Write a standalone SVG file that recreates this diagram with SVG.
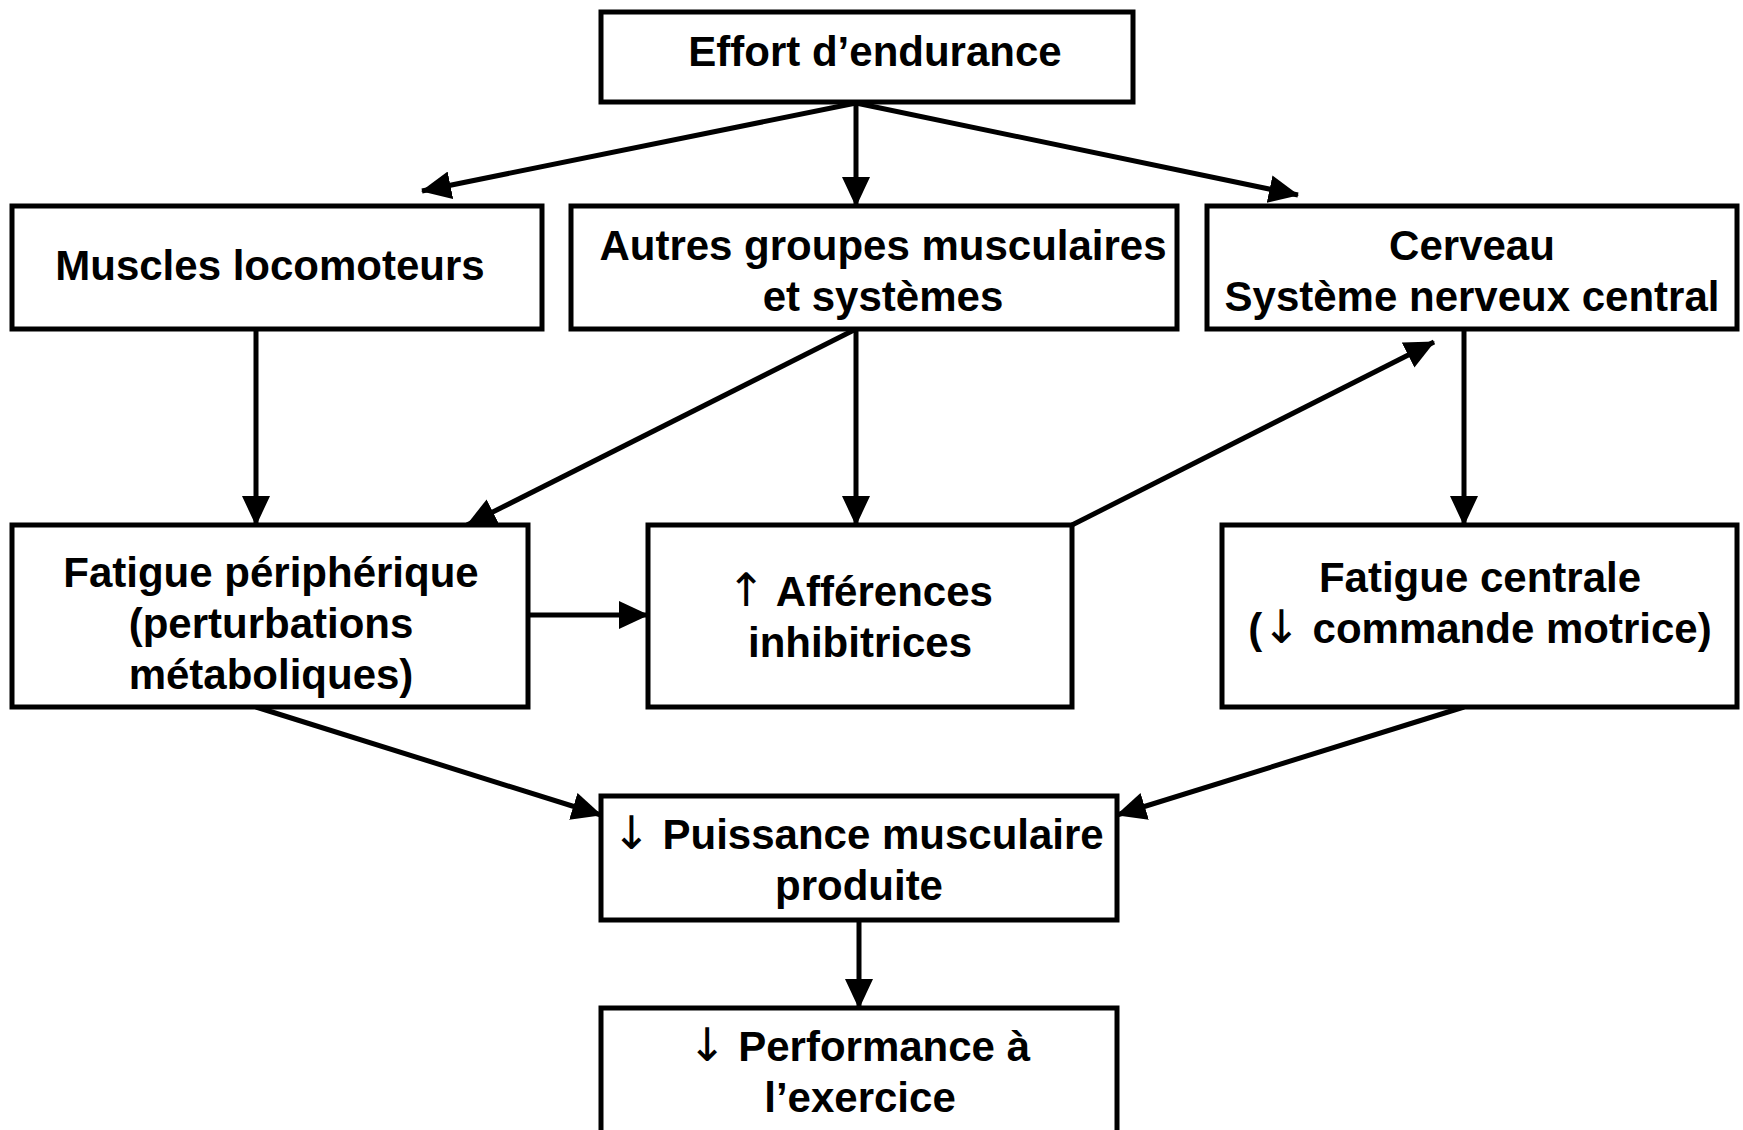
<svg xmlns="http://www.w3.org/2000/svg" width="1743" height="1130" viewBox="0 0 1743 1130">
<defs>
<style>
.box{fill:#fff;stroke:#000;stroke-width:5}
.t{font-family:"Liberation Sans",Arial,sans-serif;font-weight:bold;font-size:42px;fill:#000;text-anchor:middle}
.ar{font-family:"DejaVu Sans",sans-serif;font-weight:normal;font-size:46px}
.c{stroke:#000;stroke-width:5;fill:none;marker-end:url(#ah)}
</style>
<marker id="ah" markerUnits="userSpaceOnUse" markerWidth="30" markerHeight="28" refX="29" refY="14" orient="auto">
<path d="M0,0 L30,14 L0,28 z" fill="#000"/>
</marker>
</defs>
<rect width="1743" height="1130" fill="#fff"/>
<g id="connectors">
<line class="c" x1="856" y1="103" x2="422" y2="191"/>
<line class="c" x1="856" y1="103" x2="856" y2="206"/>
<line class="c" x1="856" y1="103" x2="1298" y2="195"/>
<line class="c" x1="256" y1="329" x2="256" y2="525"/>
<line class="c" x1="856" y1="329" x2="467" y2="525"/>
<line class="c" x1="856" y1="329" x2="856" y2="525"/>
<line class="c" x1="1072" y1="525" x2="1434" y2="342"/>
<line class="c" x1="1464" y1="329" x2="1464" y2="525"/>
<line class="c" x1="528" y1="615" x2="648" y2="615"/>
<line class="c" x1="256" y1="707" x2="601" y2="815"/>
<line class="c" x1="1464" y1="707" x2="1117" y2="815"/>
<line class="c" x1="859" y1="920" x2="859" y2="1008"/>
</g>
<g id="effort">
<rect class="box" x="601" y="12" width="532" height="90"/>
<text class="t" x="875" y="66">Effort d’endurance</text>
</g>
<g id="muscles">
<rect class="box" x="12" y="206" width="530" height="123"/>
<text class="t" x="270" y="280">Muscles locomoteurs</text>
</g>
<g id="autres">
<rect class="box" x="571" y="206" width="606" height="123"/>
<text class="t" x="883" y="260">Autres groupes musculaires</text>
<text class="t" x="883" y="311">et systèmes</text>
</g>
<g id="cerveau">
<rect class="box" x="1207" y="206" width="530" height="123"/>
<text class="t" x="1472" y="260">Cerveau</text>
<text class="t" x="1472" y="311">Système nerveux central</text>
</g>
<g id="fatigue-peripherique">
<rect class="box" x="12" y="525" width="516" height="182"/>
<text class="t" x="271" y="587">Fatigue périphérique</text>
<text class="t" x="271" y="638">(perturbations</text>
<text class="t" x="271" y="689">métaboliques)</text>
</g>
<g id="afferences">
<rect class="box" x="648" y="525" width="424" height="182"/>
<text class="t" x="860" y="606"><tspan class="ar">↑</tspan> Afférences</text>
<text class="t" x="860" y="657">inhibitrices</text>
</g>
<g id="fatigue-centrale">
<rect class="box" x="1222" y="525" width="515" height="182"/>
<text class="t" x="1480" y="592">Fatigue centrale</text>
<text class="t" x="1480" y="643">(<tspan class="ar">↓</tspan> commande motrice)</text>
</g>
<g id="puissance">
<rect class="box" x="601" y="796" width="516" height="124"/>
<text class="t" x="858" y="849"><tspan class="ar">↓</tspan> Puissance musculaire</text>
<text class="t" x="859" y="900">produite</text>
</g>
<g id="performance">
<rect class="box" x="601" y="1008" width="516" height="140"/>
<text class="t" x="859" y="1061"><tspan class="ar">↓</tspan> Performance à</text>
<text class="t" x="860" y="1112">l’exercice</text>
</g>
</svg>
